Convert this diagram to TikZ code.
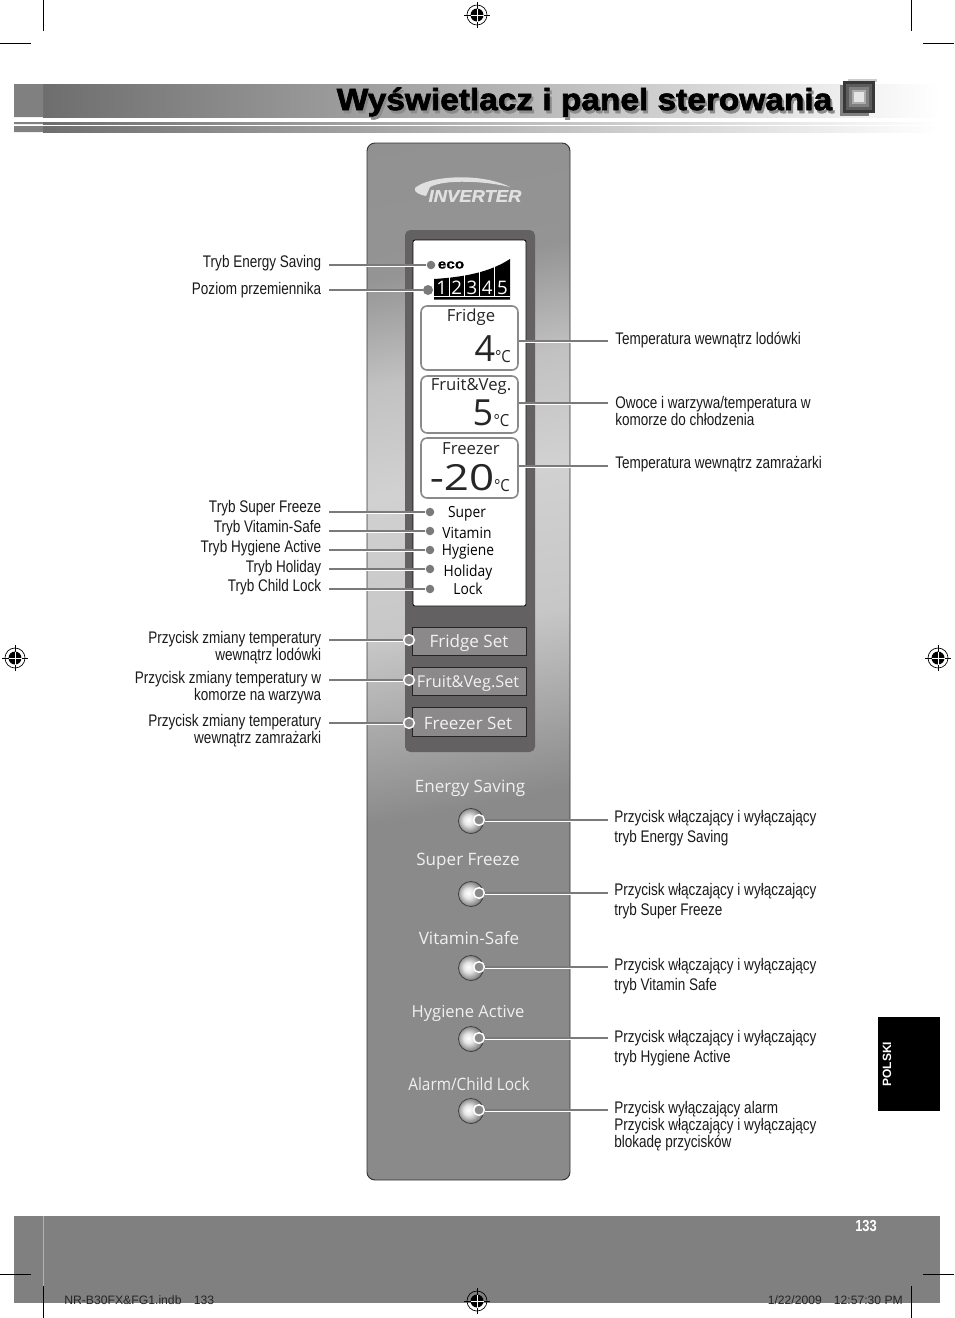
\documentclass[tikz,border=0pt]{standalone}
\usepackage{fontspec}
\setmainfont{Liberation Sans}
\newfontfamily\narrowfont[FakeStretch=0.805]{Liberation Sans}
\newfontfamily\titlefont[FakeStretch=1.09,FakeBold=2.2]{Liberation Sans Bold}
\newfontfamily\logofont[FakeStretch=1.08,FakeBold=1]{Liberation Sans Bold Italic}
\newfontfamily\ecofont[FakeStretch=1.15,FakeBold=1]{Liberation Sans Bold}
\newfontfamily\panelfont{Open Sans}
\newfontfamily\panelnarrow[FakeStretch=0.90]{Open Sans}
\newfontfamily\lcdwide[FakeStretch=1.22]{Open Sans}
\usetikzlibrary{arrows.meta,positioning,calc,shadings}
\definecolor{leadgray}{HTML}{7A7A7A}
\definecolor{bezel}{HTML}{636161}
\definecolor{setfill}{HTML}{8B8989}
\definecolor{lcdframe}{HTML}{8A8A8A}
\pgfdeclareverticalshading{panelshade}{100bp}{
  color(0bp)=(black!46); color(42bp)=(black!46); color(47bp)=(black!34); color(52bp)=(black!22);
  color(60bp)=(black!18); color(66bp)=(black!24); color(72bp)=(black!42); color(100bp)=(black!46)}
\pgfdeclareradialshading{knobshade}{\pgfpoint{-6bp}{2bp}}{
  color(0bp)=(white); color(10bp)=(black!10); color(25bp)=(black!50); color(50bp)=(black!60)}
\newcommand{\regmark}[2]{
  \draw[regline] (#1-13,#2) -- (#1+13,#2) (#1,#2-13) -- (#1,#2+13);
  \draw[regline] (#1,#2) ellipse (10 and 10);
  \fill[black] (#1,#2) circle (6.5);
  \draw[white,line width=.6pt] (#1-6.5,#2) -- (#1+6.5,#2) (#1,#2-6.5) -- (#1,#2+6.5);
}
\begin{document}
\begin{tikzpicture}[
  x=0.75pt,y=-0.75pt,
  callout/.style={font=\narrowfont\fontsize{12.6}{12.75}\selectfont,inner sep=0pt,text=black!90},
  calloutl/.style={callout,align=right,anchor=east},
  calloutr/.style={callout,align=left,anchor=west},
  calloutw/.style={calloutr,font=\narrowfont\fontsize{12.6}{15}\selectfont},
  lead/.style={draw=leadgray,line width=1.2pt,preaction={draw=white,line width=1.2pt,transform canvas={yshift=-1.2pt}}},
  dotmark/.style={circle,fill=leadgray,inner sep=0pt,minimum size=6.4pt},
  ringmark/.style={circle,draw=white,fill=setfill,line width=1.1pt,inner sep=0pt,minimum size=8pt},
  knob/.style={circle,draw=black!75,line width=.6pt,shading=knobshade,inner sep=0pt,minimum size=18.8pt},
  paneltext/.style={font=\panelfont\fontsize{12.8}{14}\selectfont,text=black!6,inner sep=0pt},
  panelntext/.style={font=\panelnarrow\fontsize{12.8}{14}\selectfont,text=black!6,inner sep=0pt},
  settext/.style={font=\panelfont\fontsize{12.8}{14}\selectfont,text=black!5,inner sep=0pt},
  lcdtext/.style={font=\panelfont\fontsize{12.5}{13}\selectfont,text=black!85,inner sep=0pt},
  modetext/.style={font=\panelnarrow\fontsize{11.5}{13}\selectfont,text=black,inner sep=0pt},
  bartext/.style={font=\panelfont\fontsize{14}{14}\selectfont,text=white,inner sep=0pt},
  lcdbox/.style={draw=lcdframe,line width=1.2pt,rounded corners=4.5pt,fill=white},
  setbox/.style={draw=black!85,line width=.6pt,fill=setfill},
  digit/.style={font=\panelfont\fontsize{27}{27}\selectfont,text=black!85,inner sep=0pt},
  unit/.style={font=\panelnarrow\fontsize{12.5}{12}\selectfont,text=black!85,inner sep=0pt},
  regline/.style={draw=black,line width=.5pt},
  crop/.style={draw=black,line width=.5pt},
]
\useasboundingbox (0,0) rectangle (954,1318);
% ----- header band
\shade[left color=black!57,right color=white,middle color=black!30] (43,84) rectangle (940,117);
\shade[left color=black!57,right color=white,middle color=black!28] (43,122) rectangle (940,124);
\shade[left color=black!57,right color=white,middle color=black!28] (43,126) rectangle (940,132);
\fill[black!50] (14,84) rectangle (43,117) (14,122) rectangle (43,124) (14,126) rectangle (43,132);
\node[font=\titlefont\fontsize{23}{23}\selectfont,text=black!45,inner sep=0pt] (titleshadow) at (586.5,105) {Wyświetlacz i panel sterowania};
\node[font=\titlefont\fontsize{23}{23}\selectfont,text=black,inner sep=0pt] (title) at (584.5,102) {Wyświetlacz i panel sterowania};
\fill[black!50] (840,85) rectangle (869,116);
\fill[black!20] (848,79) rectangle (877,82);
\fill[black!78] (843,81) rectangle (875,113);
\fill[black!64] (846,84) rectangle (872,110);
\fill[black!50] (849,87) rectangle (869,107);
\fill[black!32] (852,90) rectangle (866,104);
\fill[black!10] (854,92) rectangle (864,102);
% ----- panel
\path[shade,shading=panelshade,shading angle=11,rounded corners=6pt] (367,143) rectangle (570,1180);
\draw[draw=black!80,line width=.7pt,rounded corners=6pt] (367,143) rectangle (570,1180);
\fill[black!12] (415,188) .. controls (428,176) and (480,172) .. (510,187) .. controls (485,181) and (445,179) .. (430,187) -- (426,196) .. controls (420,195) and (413,192) .. (415,188);
\node[font=\logofont\fontsize{12.8}{13}\selectfont,text=black!12,inner sep=0pt] (logo) at (475,196) {INVERTER};
% ----- display
\fill[bezel,rounded corners=4pt] (405,230) rectangle (535,752);
\draw[fill=white,draw=black,line width=.6pt,rounded corners=1.5pt] (413,240) rectangle (526,606);
\node[font=\ecofont\fontsize{10}{10}\selectfont,text=black,inner sep=0pt] (eco) at (451,265) {eco};
\fill[black] (434,279) .. controls (465,277) and (490,272) .. (510,259) -- (510,299.5) -- (434,299.5) -- cycle;
\draw[white,line width=.6pt] (449.2,270) -- (449.2,296) (464.4,270) -- (464.4,296) (479.6,265) -- (479.6,296) (494.8,262) -- (494.8,296) (434,296) -- (510,296);
\node[bartext] (n1) at (441.6,287.5) {1};
\node[bartext] (n2) at (456.8,287.5) {2};
\node[bartext] (n3) at (472,287.5) {3};
\node[bartext] (n4) at (487.2,287.5) {4};
\node[bartext] (n5) at (502.4,287.5) {5};
\node[lcdbox,minimum width=72.7pt,minimum height=48pt,inner sep=0pt] (fridge) at (469.5,338) {};
\node[lcdbox,minimum width=72.7pt,minimum height=42.7pt,inner sep=0pt] (fruit) at (469.5,404.5) {};
\node[lcdbox,minimum width=72.7pt,minimum height=45pt,inner sep=0pt] (freezer) at (469.5,468) {};
\node[lcdtext] (fridgetxt) at (471,317) {Fridge};
\node[lcdtext] (fruittxt) at (471,386) {Fruit\&Veg.};
\node[lcdtext] (freezertxt) at (471,449) {Freezer};
\node[digit] (tfridge) at (485,349) {4};
\node[unit] (ufridge) at (503,357) {°C};
\node[digit] (tfruit) at (483,413) {5};
\node[unit] (ufruit) at (501.5,421) {°C};
\node[digit,font=\lcdwide\fontsize{27}{27}\selectfont] (tfreezer) at (462,478) {-20};
\node[unit] (ufreezer) at (502,486) {°C};
\node[modetext] (super) at (467,514) {Super};
\node[modetext] (vitamin) at (467,533) {Vitamin};
\node[modetext] (hygiene) at (468,552) {Hygiene};
\node[modetext] (holiday) at (468,573) {Holiday};
\node[modetext] (lock) at (468,589) {Lock};
% ----- set keys
\node[setbox,minimum width=85.5pt,minimum height=21.5pt,inner sep=0pt] (fridgeset) at (469,641.5) {};
\node[setbox,minimum width=85.5pt,minimum height=21.5pt,inner sep=0pt] (fruitset) at (469,681.5) {};
\node[setbox,minimum width=85.5pt,minimum height=22pt,inner sep=0pt] (freezerset) at (469,722) {};
\node[settext] (fridgesettxt) at (469,643) {Fridge Set};
\node[settext,font=\panelfont\fontsize{12.2}{14}\selectfont] (fruitsettxt) at (468,683) {Fruit\&Veg.Set};
\node[settext] (freezersettxt) at (468,723) {Freezer Set};
% ----- panel keys
\node[paneltext] (energy) at (470,788) {Energy Saving};
\node[paneltext] (sfreeze) at (468,861) {Super Freeze};
\node[paneltext] (vsafe) at (469,938) {Vitamin-Safe};
\node[panelntext,font=\panelfont\fontsize{12.4}{14}\selectfont] (hactive) at (468,1013) {Hygiene Active};
\node[panelntext] (alarm) at (469,1084) {Alarm/Child Lock};
\node[knob] (k1) at (471,821) {};
\node[knob] (k2) at (471,894) {};
\node[knob] (k3) at (471,968) {};
\node[knob] (k4) at (471,1039) {};
\node[knob] (k5) at (471,1111) {};
% ----- left callouts
\node[dotmark] (d1) at (431,265) {};
\node[dotmark,minimum size=7.5pt] (d2) at (428,290) {};
\node[dotmark] (d3) at (430,512) {};
\node[dotmark] (d4) at (430,531) {};
\node[dotmark] (d5) at (430,550) {};
\node[dotmark] (d6) at (430,569) {};
\node[dotmark] (d7) at (430,589) {};
\node[calloutl] (l1) at (321.5,263) {Tryb Energy Saving};
\node[calloutl] (l2) at (321.5,290) {Poziom przemiennika};
\node[calloutl] (l3) at (321.5,508) {Tryb Super Freeze};
\node[calloutl] (l4) at (321.5,528) {Tryb Vitamin-Safe};
\node[calloutl] (l5) at (321.5,548) {Tryb Hygiene Active};
\node[calloutl] (l6) at (321.5,568) {Tryb Holiday};
\node[calloutl] (l7) at (321.5,587) {Tryb Child Lock};
\node[calloutl] (l8) at (321.5,647.5) {Przycisk zmiany temperatury\\wewnątrz lodówki};
\node[calloutl] (l9) at (321.5,687.5) {Przycisk zmiany temperatury w\\komorze na warzywa};
\node[calloutl] (l10) at (321.5,731) {Przycisk zmiany temperatury\\wewnątrz zamrażarki};
\coordinate (a1) at (329,265);
\coordinate (a2) at (329,290);
\coordinate (a3) at (329,512);
\coordinate (a4) at (329,531);
\coordinate (a5) at (329,550);
\coordinate (a6) at (329,569);
\coordinate (a7) at (329,589);
\coordinate (a8) at (329,640);
\coordinate (a9) at (329,680);
\coordinate (a10) at (329,723);
\draw[lead] (a1) -- (d1);
\draw[lead] (a2) -- (d2);
\draw[lead] (a3) -- (d3);
\draw[lead] (a4) -- (d4);
\draw[lead] (a5) -- (d5);
\draw[lead] (a6) -- (d6);
\draw[lead] (a7) -- (d7);
\node[ringmark] (r1) at (409,640) {};
\node[ringmark] (r2) at (409,680) {};
\node[ringmark] (r3) at (409,723) {};
\draw[lead] (a8) -- (r1);
\draw[lead] (a9) -- (r2);
\draw[lead] (a10) -- (r3);
% ----- right callouts
\node[calloutr] (t1) at (615,340) {Temperatura wewnątrz lodówki};
\node[calloutr] (t2) at (615,411) {Owoce i warzywa/temperatura w\\komorze do chłodzenia};
\node[calloutr] (t3) at (615,464) {Temperatura wewnątrz zamrażarki};
\coordinate (b1) at (608,341);
\coordinate (b2) at (608,403);
\coordinate (b3) at (608,466);
\draw[lead] (b1) -- (fridge.east |- b1);
\draw[lead] (b2) -- (fruit.east |- b2);
\draw[lead] (b3) -- (freezer.east |- b3);
\coordinate (c1) at (608,820);
\coordinate (c2) at (608,893);
\coordinate (c3) at (608,967);
\coordinate (c4) at (608,1038);
\coordinate (c5) at (608,1110);
\node[ringmark] (r4) at (479,820) {};
\node[ringmark] (r5) at (479,893) {};
\node[ringmark] (r6) at (479,967) {};
\node[ringmark] (r7) at (479,1038) {};
\node[ringmark] (r8) at (479,1110) {};
\draw[lead] (r4) -- (c1);
\draw[lead] (r5) -- (c2);
\draw[lead] (r6) -- (c3);
\draw[lead] (r7) -- (c4);
\draw[lead] (r8) -- (c5);
\node[calloutw] (t4) at (614,828) {Przycisk włączający i wyłączający\\tryb Energy Saving};
\node[calloutw] (t5) at (614,901) {Przycisk włączający i wyłączający\\tryb Super Freeze};
\node[calloutw] (t6) at (614,976) {Przycisk włączający i wyłączający\\tryb Vitamin Safe};
\node[calloutw] (t7) at (614,1048) {Przycisk włączający i wyłączający\\tryb Hygiene Active};
\node[calloutr] (t8) at (614,1126) {Przycisk wyłączający alarm\\Przycisk włączający i wyłączający\\blokadę przycisków};
% ----- footer and tab
\fill[black!50] (14,1216) rectangle (940,1303);
\draw[black!30,line width=.4pt] (43,1216) -- (43,1286);
\node[font=\bfseries\narrowfont\fontsize{12}{12}\selectfont,text=white,inner sep=0pt] (page) at (866,1226) {133};
\fill[black] (878,1017) rectangle (940,1111);
\node[font=\bfseries\fontsize{9}{9}\selectfont,text=white,inner sep=0pt,rotate=90] (polski) at (887,1064) {POLSKI};
\node[font=\fontsize{9.15}{9}\selectfont,text=black!85,inner sep=0pt,anchor=west] (slugl) at (64,1300) {NR-B30FX\&FG1.indb\quad 133};
\node[font=\fontsize{9.1}{9}\selectfont,text=black!85,inner sep=0pt,anchor=east] (slugr) at (903,1300) {1/22/2009\quad 12:57:30 PM};
% ----- printer marks
\draw[crop] (43,0) -- (43,31);
\draw[crop] (911,0) -- (911,31);
\draw[crop] (0,43) -- (31,43);
\draw[crop] (923,43) -- (954,43);
\draw[crop] (0,1274) -- (31,1274);
\draw[crop] (923,1274) -- (954,1274);
\draw[crop] (43,1286) -- (43,1318);
\draw[crop] (911,1286) -- (911,1318);
\regmark{477}{15}
\regmark{477}{1301}
\regmark{15}{658}
\regmark{938}{658}
\end{tikzpicture}
\end{document}
